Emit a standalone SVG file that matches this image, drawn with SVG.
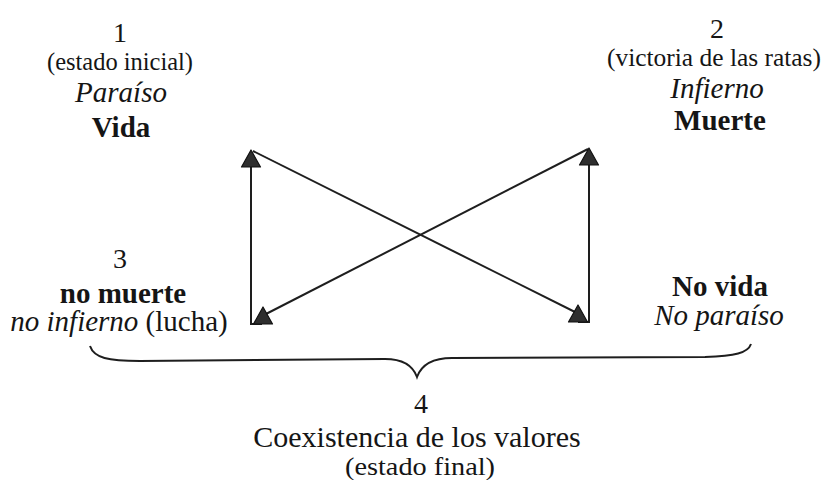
<svg xmlns="http://www.w3.org/2000/svg" xmlns:xlink="http://www.w3.org/1999/xlink" width="823" height="480" viewBox="0 0 823 480">
<style>
text{font-family:"Liberation Serif","Times New Roman",serif;fill:#151515;text-anchor:middle}
.num{font-size:28px}
.par{font-size:25px}
.main{font-size:29px}
.b{font-weight:bold}
.i{font-style:italic}
.ln{stroke:#1e1e1e;stroke-width:2;fill:none}
.tri{fill:#2e2e2e;stroke:#111;stroke-width:1.2;stroke-linejoin:round}
</style>
<defs>
<path id="tri" class="tri" d="M0 0 L9.5 17 L-9.5 17 Z"/>
</defs>
<rect width="823" height="480" fill="#ffffff"/>
<g id="connectors">
<line class="ln" x1="251" y1="325" x2="251" y2="164"/>
<line class="ln" x1="589" y1="323" x2="589" y2="162"/>
<line class="ln" x1="251" y1="324" x2="262" y2="324"/>
<line class="ln" x1="578" y1="322" x2="589" y2="322"/>
<line class="ln" x1="253" y1="151" x2="577" y2="313"/>
<line class="ln" x1="588" y1="149" x2="264" y2="315"/>
<use xlink:href="#tri" x="251" y="150"/>
<use xlink:href="#tri" x="589" y="148"/>
<use xlink:href="#tri" x="263" y="307"/>
<use xlink:href="#tri" x="578" y="305"/>
</g>
<g id="node1">
<text class="num" x="120" y="42">1</text>
<text class="par" x="120" y="70" textLength="146" lengthAdjust="spacingAndGlyphs">(estado inicial)</text>
<text class="main i" x="121" y="102">Paraíso</text>
<text class="main b" x="121" y="137">Vida</text>
</g>
<g id="node2">
<text class="num" x="717" y="38">2</text>
<text class="par" x="714" y="66" textLength="214" lengthAdjust="spacingAndGlyphs">(victoria de las ratas)</text>
<text class="main i" x="717" y="98">Infierno</text>
<text class="main b" x="720" y="130">Muerte</text>
</g>
<g id="node3">
<text class="num" x="120" y="268">3</text>
<text class="main b" x="123" y="303">no muerte</text>
<text class="main" x="119" y="331"><tspan class="i">no infierno</tspan> (lucha)</text>
</g>
<g id="node_novida">
<text class="main b" x="720" y="296">No vida</text>
<text class="main i" x="719" y="325">No paraíso</text>
</g>
<g id="node4">
<path class="ln" d="M90 346 C94 358 108 361 140 361 L385 359 C403 359 413 366 417 377 C421 366 431 358 452 358 L705 357 C735 356 748 353 751 344"/>
<text class="num" x="421" y="413">4</text>
<text class="main" x="417" y="447" style="font-size:30px">Coexistencia de los valores</text>
<text class="par" x="420" y="475" textLength="150" lengthAdjust="spacingAndGlyphs">(estado final)</text>
</g>
</svg>
